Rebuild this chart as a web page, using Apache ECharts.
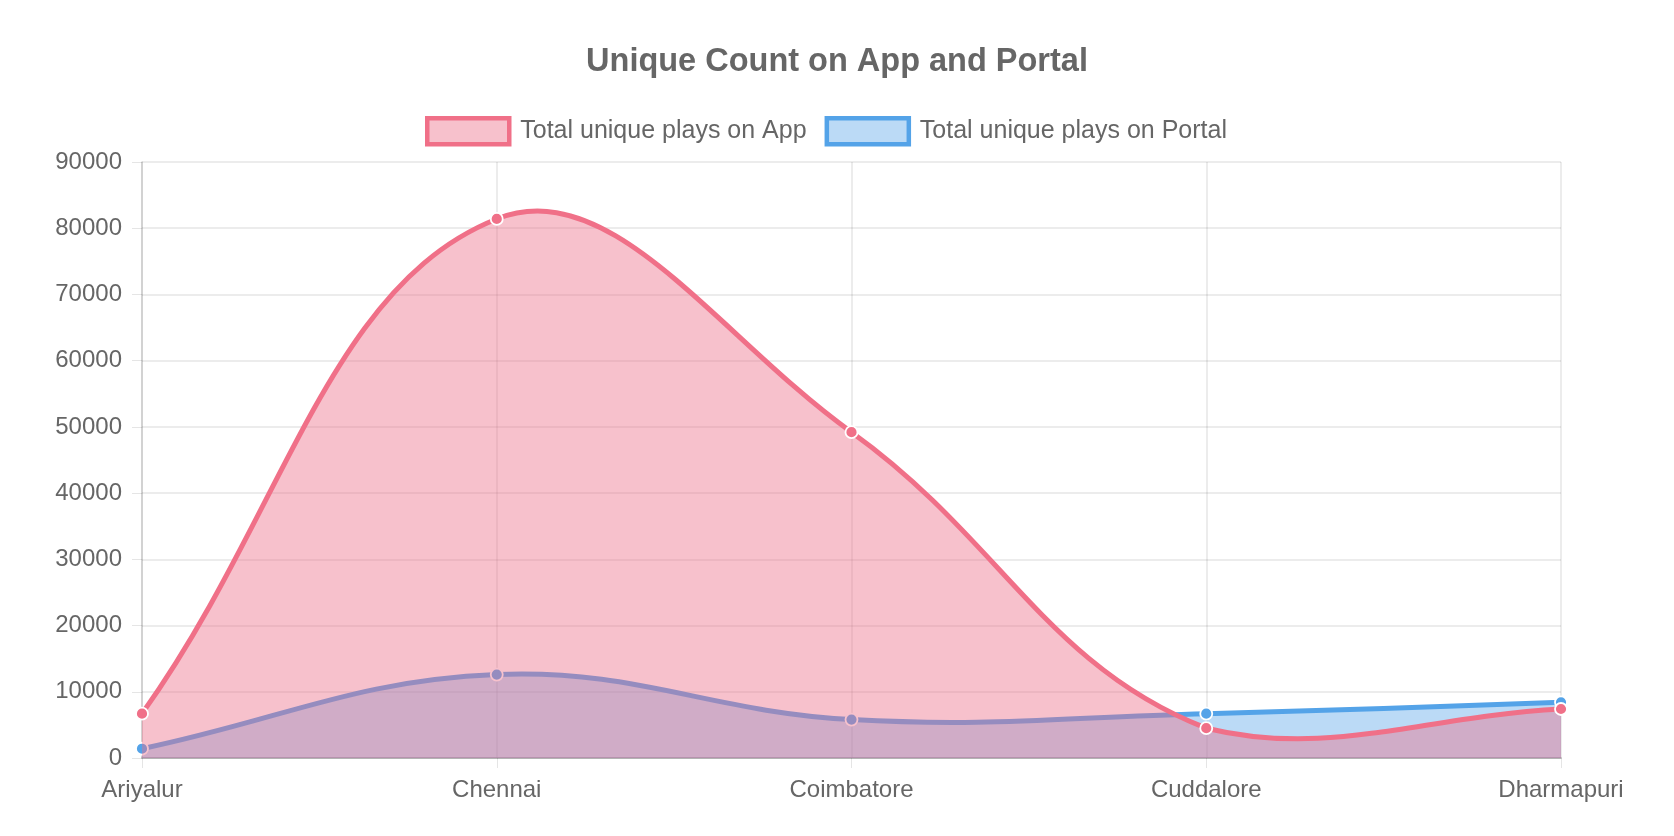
<!DOCTYPE html>
<html>
<head>
<meta charset="utf-8">
<script src="https://cdn.jsdelivr.net/npm/echarts@6/dist/echarts.min.js"></script>
<style>
  html, body { margin: 0; padding: 0; background: #fff; }
  #chart { width: 1674px; height: 836px; }
</style>
</head>
<body>
<div id="chart"></div>
<script>
const titleText = 'Unique Count on App and Portal';
const categories = ['Ariyalur', 'Chennai', 'Coimbatore', 'Cuddalore', 'Dharmapuri'];
const appName = 'Total unique plays on App';
const portalName = 'Total unique plays on Portal';
const appValues = [6700, 81400, 49200, 4500, 7400];
const portalValues = [1400, 12600, 5800, 6700, 8400];
const yMin = 0, yMax = 90000, yInterval = 10000;

const appLine = 'rgb(240,112,136)';
const appFill = 'rgba(237,111,137,0.43)';
const portalLine = 'rgb(84,163,232)';
const portalFill = 'rgba(84,163,232,0.4)';
const font = '"Liberation Sans", Arial, Helvetica, sans-serif';
const tension = 0.4;

// Chart.js-style spline through pixel positions obtained from the axes,
// control points capped to the plotting area
function splinePaths(values, api, area) {
  const pts = values.map((v, i) => api.coord([i, v]));
  const base = api.coord([0, yMin])[1];
  const cap = (pt) => [
    Math.max(area.x, Math.min(area.x + area.width, pt[0])),
    Math.max(area.y, Math.min(area.y + area.height, pt[1]))
  ];
  const cps = pts.map((p, i) => {
    const p0 = pts[i - 1] || p, p2 = pts[i + 1] || p;
    const d01 = Math.hypot(p[0] - p0[0], p[1] - p0[1]);
    const d12 = Math.hypot(p2[0] - p[0], p2[1] - p[1]);
    let s01 = d01 / (d01 + d12), s12 = d12 / (d01 + d12);
    if (!isFinite(s01)) s01 = 0;
    if (!isFinite(s12)) s12 = 0;
    const fa = tension * s01, fb = tension * s12;
    return {
      prev: cap([p[0] - fa * (p2[0] - p0[0]), p[1] - fa * (p2[1] - p0[1])]),
      next: cap([p[0] + fb * (p2[0] - p0[0]), p[1] + fb * (p2[1] - p0[1])])
    };
  });
  let d = 'M' + pts[0][0] + ' ' + pts[0][1];
  for (let i = 1; i < pts.length; i++) {
    const a = cps[i - 1].next, b = cps[i].prev, p = pts[i];
    d += ' C' + a[0] + ' ' + a[1] + ' ' + b[0] + ' ' + b[1] + ' ' + p[0] + ' ' + p[1];
  }
  const last = pts[pts.length - 1];
  const areaPath = d + ' L' + last[0] + ' ' + base + ' L' + pts[0][0] + ' ' + base + ' Z';
  return { line: d, area: areaPath };
}

function curveSeries(name, values, lineColor, fillColor, z) {
  return {
    name: name,
    type: 'custom',
    z: z,
    silent: true,
    data: values.map((v, i) => [i, v]),
    encode: { x: 0, y: 1 },
    renderItem: function (params, api) {
      if (params.dataIndex !== 0) return null;
      const p = splinePaths(values, api, params.coordSys);
      return {
        type: 'group',
        children: [
          { type: 'path', shape: { pathData: p.area }, style: { fill: fillColor, stroke: null } },
          { type: 'path', shape: { pathData: p.line }, style: { fill: 'none', stroke: lineColor, lineWidth: 5, lineJoin: 'round' } }
        ]
      };
    }
  };
}

function pointSeries(name, values, color, z) {
  return {
    name: name,
    type: 'line',
    z: z,
    data: values,
    symbol: 'circle',
    symbolSize: 12,
    showSymbol: true,
    lineStyle: { width: 0, opacity: 0 },
    itemStyle: { color: color, borderColor: '#fff', borderWidth: 1.8 }
  };
}

const chart = echarts.init(document.getElementById('chart'), null, { renderer: 'canvas' });
chart.setOption({
  animation: false,
  backgroundColor: '#fff',
  title: {
    text: titleText,
    left: 'center',
    top: 41,
    textStyle: { fontFamily: font, fontSize: 32.5, fontWeight: 'bold', color: '#666' }
  },
  legend: {
    top: 116,
    left: 425,
    padding: 0,
    icon: 'rect',
    itemWidth: 82,
    itemHeight: 26,
    itemGap: 18,
    textStyle: { fontFamily: font, fontSize: 25, color: '#666', padding: [0, 0, 0, 6] },
    data: [
      { name: appName, itemStyle: { color: appFill, borderColor: appLine, borderWidth: 4.5 } },
      { name: portalName, itemStyle: { color: portalFill, borderColor: portalLine, borderWidth: 4.5 } }
    ]
  },
  grid: { left: 142, right: 113, top: 162, bottom: 78, containLabel: false },
  xAxis: {
    type: 'category',
    data: categories,
    boundaryGap: false,
    axisLine: { show: true, lineStyle: { color: '#a0a0a0', width: 1.5 } },
    axisTick: { show: true, alignWithLabel: true, length: 10, lineStyle: { color: 'rgba(0,0,0,0.1)' } },
    axisLabel: { fontFamily: font, fontSize: 24, color: '#666', margin: 20 },
    splitLine: { show: true, lineStyle: { color: 'rgba(0,0,0,0.1)', width: 1.5 } }
  },
  yAxis: {
    type: 'value',
    min: yMin, max: yMax, interval: yInterval,
    axisLine: { show: true, lineStyle: { color: 'rgba(0,0,0,0.15)', width: 1.5 } },
    axisTick: { show: true, length: 10, lineStyle: { color: 'rgba(0,0,0,0.1)' } },
    axisLabel: { fontFamily: font, fontSize: 24, color: '#666', margin: 20, formatter: v => String(v) },
    splitLine: { show: true, lineStyle: { color: 'rgba(0,0,0,0.1)', width: 1.5 } }
  },
  series: [
    curveSeries(portalName, portalValues, portalLine, portalFill, 1),
    pointSeries(portalName, portalValues, portalLine, 2),
    curveSeries(appName, appValues, appLine, appFill, 3),
    pointSeries(appName, appValues, appLine, 4)
  ]
});
</script>
</body>
</html>
